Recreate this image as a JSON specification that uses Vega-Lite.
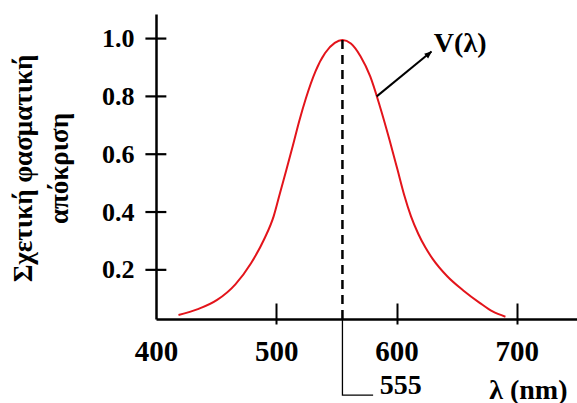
{
  "$schema": "https://vega.github.io/schema/vega-lite/v6.json",
  "width": 421,
  "height": 305,
  "autosize": "none",
  "padding": {"left": 156, "top": 14, "right": 0, "bottom": 84},
  "background": "white",
  "config": {"view": {"stroke": null}, "font": "Liberation Serif"},
  "datasets": {
    "curve": [
      {"lambda": 418.7, "V": 0.044},
      {"lambda": 434.8, "V": 0.064},
      {"lambda": 450.8, "V": 0.096},
      {"lambda": 466.0, "V": 0.150},
      {"lambda": 479.0, "V": 0.223},
      {"lambda": 489.7, "V": 0.304},
      {"lambda": 497.8, "V": 0.385},
      {"lambda": 503.1, "V": 0.466},
      {"lambda": 508.4, "V": 0.546},
      {"lambda": 513.8, "V": 0.630},
      {"lambda": 519.1, "V": 0.715},
      {"lambda": 524.5, "V": 0.792},
      {"lambda": 532.5, "V": 0.886},
      {"lambda": 540.6, "V": 0.950},
      {"lambda": 548.6, "V": 0.985},
      {"lambda": 555.0, "V": 0.995},
      {"lambda": 562.0, "V": 0.983},
      {"lambda": 570.0, "V": 0.939},
      {"lambda": 578.1, "V": 0.869},
      {"lambda": 586.1, "V": 0.766},
      {"lambda": 594.1, "V": 0.650},
      {"lambda": 600.8, "V": 0.546},
      {"lambda": 606.4, "V": 0.458},
      {"lambda": 612.0, "V": 0.385},
      {"lambda": 618.0, "V": 0.325},
      {"lambda": 624.0, "V": 0.277},
      {"lambda": 630.0, "V": 0.238},
      {"lambda": 642.3, "V": 0.177},
      {"lambda": 655.7, "V": 0.128},
      {"lambda": 669.1, "V": 0.086},
      {"lambda": 679.8, "V": 0.056},
      {"lambda": 690.5, "V": 0.038}
    ],
    "peak": [{"lambda": 555, "V": 0.995}],
    "yticks": [{"V": 0.2}, {"V": 0.4}, {"V": 0.6}, {"V": 0.8}, {"V": 1.0}],
    "arrow": [
      {"lambda": 583.5, "V": 0.80},
      {"lambda": 629.0, "V": 0.955}
    ],
    "arrowhead": [{"lambda": 629.5, "V": 0.956}],
    "leader": [
      {"lambda": 555, "V": 0.03, "order": 1},
      {"lambda": 555, "V": -0.233, "order": 2},
      {"lambda": 580.5, "V": -0.233, "order": 3}
    ],
    "texts": [
      {"lambda": 631, "V": 0.954, "text": "V(λ)"},
      {"lambda": 586, "V": -0.229, "text": "555"}
    ]
  },
  "layer": [
    {
      "data": {"name": "curve"},
      "mark": {"type": "line", "color": "#e3141b", "strokeWidth": 2, "interpolate": "monotone"},
      "encoding": {
        "x": {
          "field": "lambda", "type": "quantitative",
          "scale": {"domain": [400, 750], "nice": false, "zero": false},
          "axis": {
            "values": [400, 500, 600, 700], "ticks": false, "grid": false,
            "domainColor": "black", "domainWidth": 2.5,
            "labelPadding": 41, "labelBaseline": "alphabetic",
            "labelFont": "Liberation Serif", "labelFontWeight": "bold", "labelFontSize": 29, "labelColor": "black",
            "labelFlush": false, "labelOverlap": false,
            "title": "λ (nm)", "titleFont": "Liberation Serif", "titleFontWeight": "bold", "titleFontSize": 28, "titleColor": "black",
            "titleX": 411, "titleY": 71, "titleAlign": "right", "titleBaseline": "middle"
          }
        },
        "y": {
          "field": "V", "type": "quantitative",
          "scale": {"domain": [0.03, 1.085], "nice": false, "zero": false},
          "axis": {
            "values": [0.2, 0.4, 0.6, 0.8, 1.0], "format": ".1f", "ticks": false, "grid": false,
            "domainColor": "black", "domainWidth": 2.5,
            "labelPadding": 22,
            "labelFont": "Liberation Serif", "labelFontWeight": "bold", "labelFontSize": 26, "labelColor": "black",
            "labelFlush": false, "labelOverlap": false,
            "title": ["Σχετική φασματική", "απόκριση"],
            "titleFont": "Liberation Serif", "titleFontWeight": "bold", "titleFontSize": 27, "titleColor": "black",
            "titleAngle": -90, "titleBaseline": "bottom", "titleAlign": "center",
            "titleX": -119, "titleY": 154, "titleLineHeight": 36
          }
        }
      }
    },
    {
      "data": {"name": "peak"},
      "mark": {"type": "rule", "color": "black", "strokeWidth": 2.5, "strokeDash": [9, 6]},
      "encoding": {
        "x": {
          "field": "lambda", "type": "quantitative",
          "scale": {"domain": [400, 750], "nice": false, "zero": false},
          "axis": {
            "orient": "bottom", "offset": -16, "tickSize": 21, "values": [500, 600, 700],
            "labels": false, "domain": false, "grid": false, "title": null,
            "tickColor": "black", "tickWidth": 2
          }
        },
        "y": {
          "field": "V", "type": "quantitative",
          "scale": {"domain": [0.03, 1.085], "nice": false, "zero": false},
          "axis": null
        },
        "y2": {"datum": 0.03}
      }
    },
    {
      "data": {"name": "yticks"},
      "mark": {"type": "rule", "color": "black", "strokeWidth": 2.2, "clip": false},
      "encoding": {
        "x": {"datum": 391.2, "type": "quantitative", "scale": {"domain": [400, 750], "nice": false, "zero": false}, "axis": null},
        "x2": {"datum": 408.6},
        "y": {"field": "V", "type": "quantitative", "scale": {"domain": [0.03, 1.085], "nice": false, "zero": false}, "axis": null}
      }
    },
    {
      "data": {"name": "arrow"},
      "mark": {"type": "line", "color": "black", "strokeWidth": 2},
      "encoding": {
        "x": {"field": "lambda", "type": "quantitative", "scale": {"domain": [400, 750], "nice": false, "zero": false}, "axis": null},
        "y": {"field": "V", "type": "quantitative", "scale": {"domain": [0.03, 1.085], "nice": false, "zero": false}, "axis": null}
      }
    },
    {
      "data": {"name": "arrowhead"},
      "mark": {"type": "point", "shape": "M0,0L-0.45,1.1L0.45,1.1Z", "size": 190, "angle": 51, "filled": true, "color": "black", "opacity": 1},
      "encoding": {
        "x": {"field": "lambda", "type": "quantitative", "scale": {"domain": [400, 750], "nice": false, "zero": false}, "axis": null},
        "y": {"field": "V", "type": "quantitative", "scale": {"domain": [0.03, 1.085], "nice": false, "zero": false}, "axis": null}
      }
    },
    {
      "data": {"name": "leader"},
      "mark": {"type": "line", "color": "black", "strokeWidth": 1.3, "clip": false},
      "encoding": {
        "x": {"field": "lambda", "type": "quantitative", "scale": {"domain": [400, 750], "nice": false, "zero": false}, "axis": null},
        "y": {"field": "V", "type": "quantitative", "scale": {"domain": [0.03, 1.085], "nice": false, "zero": false}, "axis": null},
        "order": {"field": "order"}
      }
    },
    {
      "data": {"name": "texts"},
      "mark": {"type": "text", "align": "left", "baseline": "alphabetic", "font": "Liberation Serif", "fontWeight": "bold", "fontSize": 28, "color": "black", "clip": false},
      "encoding": {
        "x": {"field": "lambda", "type": "quantitative", "scale": {"domain": [400, 750], "nice": false, "zero": false}, "axis": null},
        "y": {"field": "V", "type": "quantitative", "scale": {"domain": [0.03, 1.085], "nice": false, "zero": false}, "axis": null},
        "text": {"field": "text"}
      }
    }
  ],
  "resolve": {"axis": {"x": "independent", "y": "independent"}}
}
